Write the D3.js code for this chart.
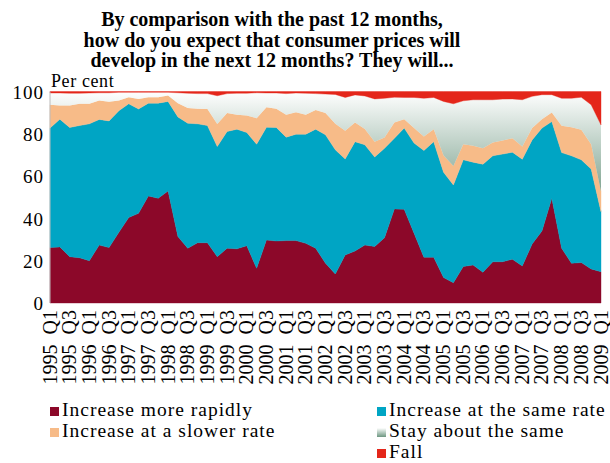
<!DOCTYPE html>
<html>
<head>
<meta charset="utf-8">
<script src="https://cdn.jsdelivr.net/npm/d3@7"></script>
</head>
<body style="margin:0">
<div id="chart"></div>
<script>
// quarterly survey answers, 1995 Q1 .. 2009 Q1 (per cent)
var tickLabels = ["1995 Q1","1995 Q3","1996 Q1","1996 Q3","1997 Q1","1997 Q3","1998 Q1","1998 Q3",
	"1999 Q1","1999 Q3","2000 Q1","2000 Q3","2001 Q1","2001 Q3","2002 Q1","2002 Q3","2003 Q1","2003 Q3",
	"2004 Q1","2004 Q3","2005 Q1","2005 Q3","2006 Q1","2006 Q3","2007 Q1","2007 Q3","2008 Q1","2008 Q3","2009 Q1"];

var rapidly = [26.2,26.5,21.9,21.4,20.0,27.4,26.2,33.4,40.4,42.4,50.6,49.5,53.0,31.4,25.9,28.5,28.5,21.9,25.9,25.6,
	27.1,16.4,29.8,29.3,29.5,29.5,28.2,25.9,18.8,13.7,22.7,24.6,27.4,26.7,30.9,44.5,44.3,33.0,21.6,21.6,
	12.0,9.6,17.2,18.0,14.5,19.5,19.5,20.7,17.5,27.9,34.1,49.5,25.9,18.8,19.1,16.1,14.8];
var sameRate = [56.5,60.4,61.1,62.5,64.7,59.4,59.9,57.5,53.8,49.3,43.9,45.0,42.3,56.6,59.1,56.2,55.4,52.1,55.2,56.6,
	53.5,58.7,53.3,53.7,48.9,50.3,51.6,56.3,60.7,58.7,45.4,51.7,47.4,42.3,42.3,33.4,38.4,42.6,50.5,54.7,
	49.8,46.2,50.5,48.6,51.1,50.1,50.9,50.6,50.5,49.2,48.6,36.3,45.2,50.8,48.6,47.2,28.4];
var slower = [11.0,6.5,10.4,10.3,9.5,9.0,9.0,4.9,3.1,4.8,2.8,2.8,2.8,6.5,7.2,7.1,7.8,10.6,8.7,6.8,
	8.1,12.3,9.5,8.8,10.6,10.4,9.2,9.0,10.3,12.3,13.3,9.0,7.5,7.3,5.0,7.4,4.2,7.1,6.6,5.9,
	7.9,9.0,7.4,7.7,7.6,6.3,6.4,6.6,6.0,5.6,4.2,4.3,12.7,13.5,14.2,11.8,9.5];
var stay = [5.6,5.9,5.8,5.0,5.1,3.6,4.3,3.8,2.3,3.1,2.3,2.3,1.5,4.9,7.0,7.2,7.3,13.4,9.2,10.2,
	10.5,12.0,6.7,7.5,10.0,9.1,10.2,7.8,9.0,13.9,15.8,13.1,15.6,20.2,18.6,12.0,10.3,14.5,18.1,15.0,
	25.6,29.4,20.5,21.8,22.9,20.2,19.6,18.6,22.1,15.0,11.6,8.4,13.0,13.7,15.4,18.6,31.5];
var fall = [0.7,0.7,0.8,0.8,0.7,0.6,0.6,0.4,0.4,0.4,0.4,0.4,0.4,0.6,0.8,1.0,1.0,2.0,1.0,0.8,
	0.8,0.6,0.7,0.7,1.0,0.7,0.8,1.0,1.2,1.4,2.8,1.6,2.1,3.5,3.2,2.7,2.8,2.8,3.2,2.8,
	4.7,5.8,4.4,3.9,3.9,3.9,3.6,3.5,3.9,2.3,1.5,1.5,3.2,3.2,2.7,6.3,15.8];

var seriesKeys = ["rapidly", "same", "slower", "stay", "fall"];
var yTicks = [0, 20, 40, 60, 80, 100];

var colors = {
	rapidly: "#8c0829",
	same: "#00a5c4",
	slower: "#f7bb88",
	stay: "url(#stayGrad)",
	fall: "#e4261a"
};

var FONT = "Liberation Serif";
var W = 610, H = 463;
var svg = d3.select("#chart").append("svg").attr("width", W).attr("height", H)
	.attr("font-family", FONT);

var defs = svg.append("defs");
var x = d3.scaleLinear().domain([0, rapidly.length - 1]).range([50, 601]);
var y = d3.scaleLinear().domain([0, 100]).range([303, 91.5]);

var grad = defs.append("linearGradient").attr("id", "stayGrad")
	.attr("gradientUnits", "userSpaceOnUse")
	.attr("x1", 0).attr("x2", 0).attr("y1", y(100)).attr("y2", y(45));
grad.append("stop").attr("offset", "0").attr("stop-color", "#ffffff");
grad.append("stop").attr("offset", "1").attr("stop-color", "#6d9781");

var legGrad = defs.append("linearGradient").attr("id", "stayLeg")
	.attr("x1", 0).attr("x2", 0).attr("y1", 0).attr("y2", 1);
legGrad.append("stop").attr("offset", "0").attr("stop-color", "#ffffff");
legGrad.append("stop").attr("offset", "1").attr("stop-color", "#6d9781");

var rows = rapidly.map(function(d, i) {
	return { i: i, rapidly: d, same: sameRate[i], slower: slower[i], stay: stay[i], fall: fall[i] };
});
var stacked = d3.stack().keys(seriesKeys)(rows);

var area = d3.area()
	.x(function(d) { return x(d.data.i); })
	.y0(function(d) { return y(d[0]); })
	.y1(function(d) { return y(d[1]); });

svg.append("g").selectAll("path").data(stacked).enter().append("path")
	.attr("d", area)
	.attr("fill", function(d) { return colors[d.key]; })
	.attr("stroke", function(d) { return d.key == "stay" ? "none" : colors[d.key]; })
	.attr("stroke-width", 0.4);

// left edge line
svg.append("line").attr("x1", 50).attr("x2", 50).attr("y1", y(100)).attr("y2", y(0)).attr("stroke", "#bbb").attr("stroke-width", 1);

// title
var title = ["By comparison with the past 12 months,", "how do you expect that consumer prices will", "develop in the next 12 months? They will..."];
svg.append("g").selectAll("text").data(title).enter().append("text")
	.attr("x", 272).attr("y", function(d, i) { return 26 + i * 20.5; })
	.attr("text-anchor", "middle").attr("font-size", 20).attr("font-weight", "bold").attr("fill", "#000")
	.attr("font-family", FONT)
	.text(function(d) { return d; });

svg.append("text").attr("x", 51).attr("y", 87).attr("font-size", 18).attr("letter-spacing", 0.6).attr("fill", "#000")
	.attr("font-family", FONT).text("Per cent");

// y axis labels
var yAxis = d3.axisLeft(y).tickValues(yTicks).tickSize(0).tickPadding(6);
var yg = svg.append("g").attr("transform", "translate(50,0)").call(yAxis);
yg.select(".domain").remove();
yg.attr("font-family", FONT);
yg.selectAll("text").attr("font-size", 19).attr("letter-spacing", 1).attr("fill", "#000").attr("dy", "0.36em")
	.attr("font-family", FONT);

// x axis labels, every second quarter
svg.append("g").selectAll("text").data(tickLabels).enter().append("text")
	.attr("transform", function(d, i) { return "translate(" + (x(i * 2) + 6.5) + ",310) rotate(-90)"; })
	.attr("text-anchor", "end").attr("font-size", 20).attr("fill", "#000")
	.attr("font-family", FONT)
	.text(function(d) { return d.replace(" ", "\u2002"); });

// legend
var legendPos = [[50, 416], [377, 416], [50, 437], [377, 437], [377, 458]];
var legendNames = ["Increase more rapidly", "Increase at the same rate", "Increase at a slower rate", "Stay about the same", "Fall"];
var lg = svg.append("g").selectAll("g").data(seriesKeys).enter().append("g")
	.attr("transform", function(d, i) { return "translate(" + legendPos[i][0] + "," + legendPos[i][1] + ")"; });
lg.append("rect").attr("x", 0).attr("y", -9).attr("width", 9).attr("height", 9)
	.attr("fill", function(d) { return d == "stay" ? "url(#stayLeg)" : colors[d]; });
lg.append("text").attr("x", 12).attr("y", 0).attr("font-size", 19.5).attr("letter-spacing", 1).attr("fill", "#000")
	.attr("font-family", FONT)
	.text(function(d, i) { return legendNames[i]; });
</script>
</body>
</html>
